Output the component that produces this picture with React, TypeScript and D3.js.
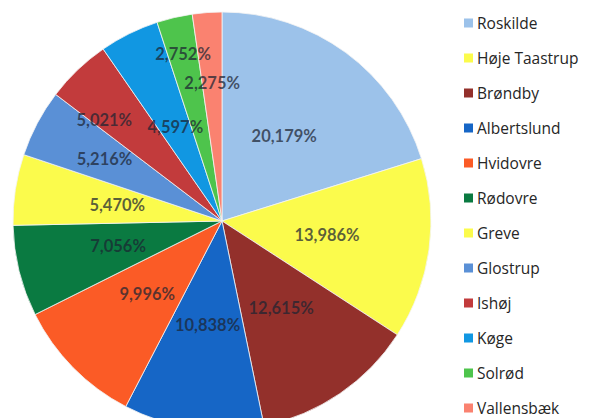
import React from "react";
import * as d3 from "d3";

const categories = ["Roskilde", "Høje Taastrup", "Brøndby", "Albertslund", "Hvidovre", "Rødovre", "Greve", "Glostrup", "Ishøj", "Køge", "Solrød", "Vallensbæk"];
const values = [20.179, 13.986, 12.615, 10.838, 9.996, 7.056, 5.47, 5.216, 5.021, 4.597, 2.752, 2.275];
const colors = ["#9cc2ea", "#fbfb4c", "#93302b", "#1666c6", "#fb5b26", "#0a7a41", "#fbfb4c", "#5a90d6", "#c23b3c", "#1197e2", "#4ec44c", "#fa8270"];
// label distance from centre and angular shift (layout only)
const labelRadius = [105, 106, 105, 105, 105, 107, 106, 133, 155, 105, 171, 138];
const labelShift = [0, 0, 0, 0, 0, 0, 0, 0, -0.1, 0, 0, 0];

const W = 590, H = 418;
const cx = 222, cy = 221, R = 209;

export default function App() {
  const pie = d3.pie<number>().sort(null).value((d) => d)(values);
  const arc = d3.arc<d3.PieArcDatum<number>>().innerRadius(0).outerRadius(R);
  const fmt = (v: number) => v.toFixed(3).replace(".", ",") + "%";
  const legendY = d3.scalePoint<string>().domain(categories).range([23, 408]);
  return (
    <svg width={W} height={H} style={{ position: "absolute", left: 0, top: 0, background: "#fff" }}
      fontFamily="Lato, 'Open Sans', sans-serif">
      <g transform={`translate(${cx},${cy})`}>
        {pie.map((p, i) => (
          <path key={i} d={arc(p) || ""} fill={colors[i]} stroke="#f4f4f4" strokeWidth={0.8} />
        ))}
        {pie.map((p, i) => {
          const a = (p.startAngle + p.endAngle) / 2 + labelShift[i];
          const r = labelRadius[i];
          const x = Math.sin(a) * r, y = -Math.cos(a) * r;
          return (
            <text key={i} x={x} y={y} dy="0.35em" textAnchor="middle" fontSize={16.5} fontWeight={700}
              fill="#1c2432" fillOpacity={0.72}>{fmt(values[i])}</text>
          );
        })}
      </g>
      <g>
        {categories.map((c, i) => (
          <g key={c} transform={`translate(464,${legendY(c)})`}>
            <rect x={0} y={-4.5} width={9} height={9} fill={colors[i]} />
            <text x={13} y={0} dy="0.36em" fontSize={15.5} fontFamily="'Open Sans', sans-serif" fill="#262626">{c}</text>
          </g>
        ))}
      </g>
    </svg>
  );
}
